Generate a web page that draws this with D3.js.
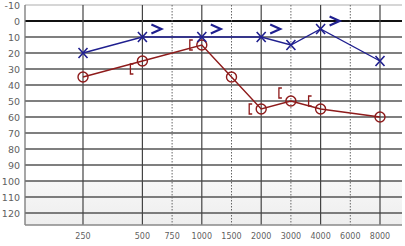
<!DOCTYPE html>
<html>
<head>
<meta charset="utf-8">
<script src="https://cdn.jsdelivr.net/npm/d3@7"></script>
<style>
  body { margin: 0; background: #fff; }
  svg text { font-family: "DejaVu Sans", Verdana, sans-serif; fill: #5f5f5f; }
</style>
</head>
<body>
<svg id="chart" width="405" height="246"></svg>
<script>
// audiogram data
const freqLabels = ["250", "500", "750", "1000", "1500", "2000", "3000", "4000", "6000", "8000"];
const freqIndex = [0, 2, 3, 4, 5, 6, 7, 8, 9, 10];
const octave = [true, true, false, true, false, true, false, true, false, true];
const dbTicks = [-10, 0, 10, 20, 30, 40, 50, 60, 70, 80, 90, 100, 110, 120];

// right ear air conduction (red circles)
const rightFreqs = ["250", "500", "1000", "1500", "2000", "3000", "4000", "8000"];
const rightAir = [35, 25, 15, 35, 55, 50, 55, 60];
// right ear masked bone "["
const rightBoneFreqs = ["500", "1000", "2000", "3000", "4000"];
const rightBone = [30, 15, 55, 45, 50];

// left ear air conduction (blue X)
const leftFreqs = ["250", "500", "1000", "2000", "3000", "4000", "8000"];
const leftAir = [20, 10, 10, 10, 15, 5, 25];
// left ear masked bone ">"
const leftBoneFreqs = ["500", "1000", "2000", "4000"];
const leftBone = [5, 5, 5, 0];

const svg = d3.select("#chart");
const gLeft = 25, gRight = 402, gTop = 5, gBottom = 225;

const x = d3.scaleLinear().domain([0, 10]).range([83, 380]);
const y = d3.scaleLinear().domain([-10, 120]).range([5, 213]);
const fx = f => x(freqIndex[freqLabels.indexOf(f)]);

const red = "#8e1b1b", blue = "#1f1f8f";

// shaded band for deep loss
const grad = svg.append("defs").append("linearGradient")
    .attr("id", "shade").attr("x1", 0).attr("x2", 0).attr("y1", 0).attr("y2", 1);
grad.append("stop").attr("offset", "0%").attr("stop-color", "#f7f7f7");
grad.append("stop").attr("offset", "100%").attr("stop-color", "#eeeeee");
svg.append("rect")
    .attr("x", gLeft).attr("y", y(100))
    .attr("width", gRight - gLeft).attr("height", gBottom - y(100))
    .attr("fill", "url(#shade)");

// horizontal grid
svg.selectAll("line.h").data(dbTicks).join("line")
    .attr("x1", gLeft).attr("x2", gRight)
    .attr("y1", d => y(d)).attr("y2", d => y(d))
    .attr("stroke", d => d === 0 ? "#111" : d === -10 ? "#c8c8c8" : "#555")
    .attr("stroke-width", d => d === 0 ? 2 : 1.3);

// vertical grid
svg.selectAll("line.v").data(freqLabels).join("line")
    .attr("x1", d => fx(d)).attr("x2", d => fx(d))
    .attr("y1", gTop).attr("y2", gBottom)
    .attr("stroke", (d, i) => octave[i] ? "#444" : "#666")
    .attr("stroke-width", (d, i) => octave[i] ? 1.2 : 1)
    .attr("stroke-dasharray", (d, i) => octave[i] ? null : "1.5,1.5");

// frame
svg.append("line").attr("x1", gLeft).attr("x2", gLeft).attr("y1", gTop).attr("y2", gBottom)
    .attr("stroke", "#777").attr("stroke-width", 1.3);
svg.append("line").attr("x1", gLeft).attr("x2", gRight).attr("y1", gBottom).attr("y2", gBottom)
    .attr("stroke", "#888").attr("stroke-width", 1.3);

// axis labels
svg.selectAll("text.y").data(dbTicks).join("text")
    .attr("x", 20).attr("y", d => y(d) + 3.5)
    .attr("text-anchor", "end").attr("font-size", 9.5)
    .text(d => d);
svg.selectAll("text.x").data(freqLabels).join("text")
    .attr("x", d => fx(d)).attr("y", 239)
    .attr("text-anchor", "middle").attr("font-size", 8)
    .text(d => d);

// right ear
const rightPts = rightFreqs.map((f, i) => [fx(f), y(rightAir[i])]);
svg.append("path").attr("d", d3.line()(rightPts))
    .attr("fill", "none").attr("stroke", red).attr("stroke-width", 1.4);
svg.selectAll("circle.r").data(rightPts).join("circle")
    .attr("cx", d => d[0]).attr("cy", d => d[1]).attr("r", 5)
    .attr("fill", "none").attr("stroke", red).attr("stroke-width", 1.4);
svg.selectAll("path.rb").data(rightBoneFreqs).join("path")
    .attr("d", (d, i) => {
        const cx = fx(d) - 11, cy = y(rightBone[i]);
        return `M${cx+2},${cy-5}L${cx-1},${cy-5}L${cx-1},${cy+5}L${cx+2},${cy+5}`;
    })
    .attr("fill", "none").attr("stroke", red).attr("stroke-width", 1.3);

// left ear
const leftPts = leftFreqs.map((f, i) => [fx(f), y(leftAir[i])]);
svg.append("path").attr("d", d3.line()(leftPts))
    .attr("fill", "none").attr("stroke", blue).attr("stroke-width", 1.4);
svg.selectAll("path.lx").data(leftPts).join("path")
    .attr("d", d => `M${d[0]-4.5},${d[1]-5}L${d[0]+4.5},${d[1]+5}M${d[0]+4.5},${d[1]-5}L${d[0]-4.5},${d[1]+5}`)
    .attr("stroke", blue).attr("stroke-width", 1.6).attr("fill", "none");
svg.selectAll("path.lb").data(leftBoneFreqs).join("path")
    .attr("d", (d, i) => {
        const cx = fx(d) + 14, cy = y(leftBone[i]);
        return `M${cx-5},${cy-4.5}L${cx+5},${cy}L${cx-5},${cy+4.5}`;
    })
    .attr("stroke", blue).attr("stroke-width", 2.2).attr("fill", "none");
</script>
</body>
</html>
